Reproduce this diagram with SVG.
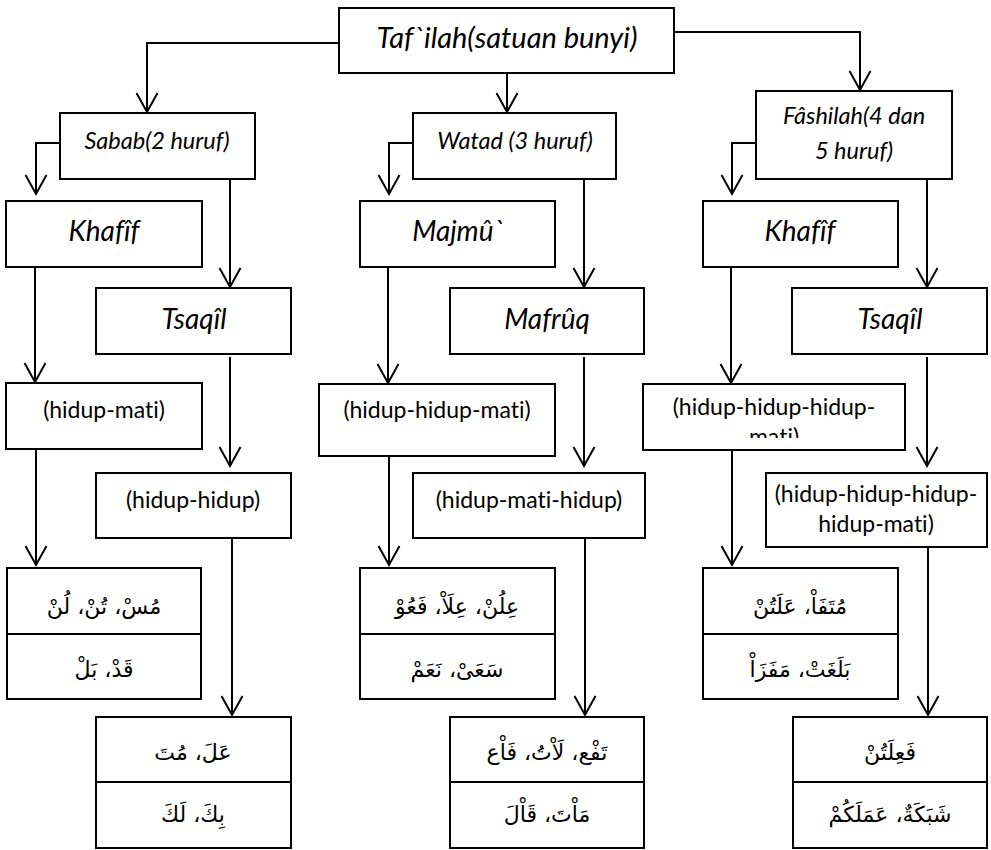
<svg xmlns="http://www.w3.org/2000/svg" width="991" height="850" viewBox="0 0 991 850">
<style>
.box{fill:#fff;stroke:#000;stroke-width:2}
.div{stroke:#000;stroke-width:2}
.con{fill:none;stroke:#000;stroke-width:2}
.it{font-family:Lato,"Liberation Sans",sans-serif;font-style:italic;text-anchor:middle;fill:#000;font-variant-ligatures:none}
.big{font-size:28px}
.top{font-size:29px}
.mid{font-size:23.5px}
.rg{font-family:Lato,"Liberation Sans",sans-serif;font-size:23px;text-anchor:middle;fill:#000;font-variant-ligatures:none}
.ar{font-family:"DejaVu Sans",sans-serif;font-size:22px;text-anchor:middle;fill:#000}
</style>
<defs>
<marker id="arr" markerUnits="userSpaceOnUse" markerWidth="24" markerHeight="26" viewBox="-22 -13 24 26" refX="0" refY="0" orient="auto" overflow="visible">
<path d="M-19,-10.5 L0,0 L-19,10.5" fill="none" stroke="#000" stroke-width="2"/>
</marker>
<clipPath id="clip5"><rect x="643" y="384" width="262" height="54"/></clipPath>
</defs>
<g id="connectors">
<path class="con" marker-end="url(#arr)" d="M339,43 H147 V112"/>
<path class="con" marker-end="url(#arr)" d="M507,73 V112"/>
<path class="con" marker-end="url(#arr)" d="M674,32 H860 V90"/>
<path class="con" marker-end="url(#arr)" d="M60,143 H36 V194"/>
<path class="con" marker-end="url(#arr)" d="M230,179 V287"/>
<path class="con" marker-end="url(#arr)" d="M35,267 V382"/>
<path class="con" marker-end="url(#arr)" d="M230,357 V466"/>
<path class="con" marker-end="url(#arr)" d="M36,449 V565"/>
<path class="con" marker-end="url(#arr)" d="M232,538 V715"/>
<path class="con" marker-end="url(#arr)" d="M413,143 H389 V194"/>
<path class="con" marker-end="url(#arr)" d="M584,179 V287"/>
<path class="con" marker-end="url(#arr)" d="M388,267 V383"/>
<path class="con" marker-end="url(#arr)" d="M389,448 V565"/>
<path class="con" marker-end="url(#arr)" d="M584,357 V466"/>
<path class="con" marker-end="url(#arr)" d="M585,538 V715"/>
<path class="con" marker-end="url(#arr)" d="M756,143 H732 V194"/>
<path class="con" marker-end="url(#arr)" d="M927,179 V287"/>
<path class="con" marker-end="url(#arr)" d="M731,267 V383"/>
<path class="con" marker-end="url(#arr)" d="M732,450 V565"/>
<path class="con" marker-end="url(#arr)" d="M927,357 V466"/>
<path class="con" marker-end="url(#arr)" d="M928,538 V715"/>
</g>
<g id="n-taf">
<rect class="box" x="339" y="8" width="335" height="65"/>
<text class="it top" x="507" y="48">Taf`ilah(satuan bunyi)</text>
</g>
<g id="n-sabab">
<rect class="box" x="60" y="113" width="195" height="66"/>
<text class="it mid" x="157" y="149">Sabab(2 huruf)</text>
</g>
<g id="n-watad">
<rect class="box" x="413" y="113" width="203" height="66"/>
<text class="it mid" x="515" y="149">Watad (3 huruf)</text>
</g>
<g id="n-fashilah">
<rect class="box" x="756" y="91" width="196" height="88"/>
<text class="it mid" x="854" y="124">Fâshilah(4 dan</text>
<text class="it mid" x="854" y="159">5 huruf)</text>
</g>
<g id="n-khafif1">
<rect class="box" x="6" y="201" width="196" height="66"/>
<text class="it big" x="104" y="241">Khafîf</text>
</g>
<g id="n-tsaqil1">
<rect class="box" x="96" y="288" width="195" height="66"/>
<text class="it big" x="194" y="329">Tsaqîl</text>
</g>
<g id="n-majmu">
<rect class="box" x="360" y="201" width="195" height="66"/>
<text class="it big" x="458" y="241">Majmû`</text>
</g>
<g id="n-mafruq">
<rect class="box" x="450" y="288" width="194" height="66"/>
<text class="it big" x="547" y="329">Mafrûq</text>
</g>
<g id="n-khafif2">
<rect class="box" x="703" y="201" width="195" height="66"/>
<text class="it big" x="800" y="241">Khafîf</text>
</g>
<g id="n-tsaqil2">
<rect class="box" x="792" y="288" width="195" height="66"/>
<text class="it big" x="890" y="329">Tsaqîl</text>
</g>
<g id="n-hm">
<rect class="box" x="6" y="383" width="196" height="66"/>
<text class="rg" x="104" y="418">(hidup-mati)</text>
</g>
<g id="n-hh">
<rect class="box" x="96" y="473" width="195" height="65"/>
<text class="rg" x="193" y="508">(hidup-hidup)</text>
</g>
<g id="n-hhm">
<rect class="box" x="319" y="384" width="236" height="72"/>
<text class="rg" x="437" y="418">(hidup-hidup-mati)</text>
</g>
<g id="n-hmh">
<rect class="box" x="413" y="473" width="232" height="65"/>
<text class="rg" x="529" y="508">(hidup-mati-hidup)</text>
</g>
<g id="n-hhhm">
<rect class="box" x="643" y="384" width="262" height="66"/>
<g clip-path="url(#clip5)">
<text class="rg" x="774" y="415">(hidup-hidup-hidup-</text>
<text class="rg" x="774" y="445">mati)</text>
</g>
</g>
<g id="n-hhhhm">
<rect class="box" x="766" y="473" width="221" height="74"/>
<text class="rg" x="876" y="502">(hidup-hidup-hidup-</text>
<text class="rg" x="876" y="532">hidup-mati)</text>
</g>
<g id="n-ar1">
<rect class="box" x="7" y="568" width="194" height="131"/>
<line class="div" x1="7" y1="634" x2="201" y2="634"/>
<text class="ar" x="104" y="614">مُسْ، تُنْ، لُنْ</text>
<text class="ar" x="104" y="677">قَدْ، بَلْ</text>
</g>
<g id="n-ar2">
<rect class="box" x="96" y="717" width="195" height="131"/>
<line class="div" x1="96" y1="782" x2="291" y2="782"/>
<text class="ar" x="193" y="760">عَلَ، مُتَ</text>
<text class="ar" x="193" y="822">بِكَ، لَكَ</text>
</g>
<g id="n-ar3">
<rect class="box" x="360" y="568" width="195" height="131"/>
<line class="div" x1="360" y1="634" x2="555" y2="634"/>
<text class="ar" x="457" y="614">عِلُنْ، عِلَاْ، فَعُوْ</text>
<text class="ar" x="457" y="677">سَعَىْ، نَعَمْ</text>
</g>
<g id="n-ar4">
<rect class="box" x="450" y="717" width="194" height="131"/>
<line class="div" x1="450" y1="782" x2="644" y2="782"/>
<text class="ar" x="547" y="760">تَفْع، لَاْتُ، فَاْع</text>
<text class="ar" x="547" y="822">مَاْتَ، قَاْلَ</text>
</g>
<g id="n-ar5">
<rect class="box" x="703" y="568" width="195" height="131"/>
<line class="div" x1="703" y1="634" x2="898" y2="634"/>
<text class="ar" x="800" y="614">مُتَفَاْ، عَلَتُنْ</text>
<text class="ar" x="800" y="677">بَلَغَتْ، مَفَزَاْ</text>
</g>
<g id="n-ar6">
<rect class="box" x="793" y="717" width="194" height="131"/>
<line class="div" x1="793" y1="782" x2="987" y2="782"/>
<text class="ar" x="890" y="760">فَعِلَتُنْ</text>
<text class="ar" x="890" y="822">شَبَكَةٌ، عَمَلَكُمْ</text>
</g>
</svg>
